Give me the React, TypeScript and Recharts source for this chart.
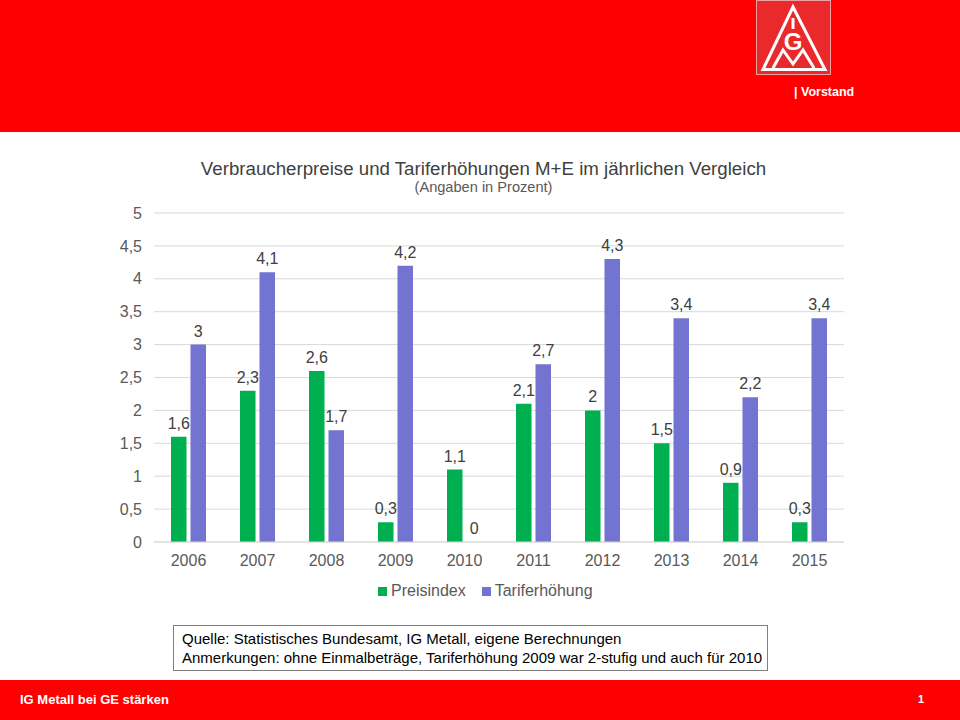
import { BarChart, Bar, XAxis, YAxis, CartesianGrid, LabelList, Legend } from "recharts"

const years = ["2006", "2007", "2008", "2009", "2010", "2011", "2012", "2013", "2014", "2015"]
const preisindex = [1.6, 2.3, 2.6, 0.3, 1.1, 2.1, 2, 1.5, 0.9, 0.3]
const tariferhoehung = [3, 4.1, 1.7, 4.2, 0, 2.7, 4.3, 3.4, 2.2, 3.4]
const yTicks = [0, 0.5, 1, 1.5, 2, 2.5, 3, 3.5, 4, 4.5, 5]

const data = years.map((year, i) => ({
  year,
  Preisindex: preisindex[i],
  Tariferhöhung: tariferhoehung[i],
}))

const FONT = '"Liberation Sans", Arial, sans-serif'
const RED = "#FF0000"

const comma = (v: any) => String(v).replace(".", ",")

function BarLabel(props: any) {
  const { x, y, width, value } = props
  return (
    <text x={x + width / 2} y={y - 8} textAnchor="middle" fill="#404040" fontSize={16}>
      {comma(value)}
    </text>
  )
}

function Logo() {
  return (
    <svg width={76} height={76} style={{ position: "absolute", left: 756, top: 0 }}>
      <rect x={0.5} y={0.5} width={74} height={74} fill="#E9292B" stroke="#F0A0A0" />
      <polygon points="37,7 69,69.5 7,69.5" fill="none" stroke="#fff" strokeWidth={3} />
      <rect x={35.5} y={18} width={3} height={11} fill="#fff" />
      <text x={37} y={50} textAnchor="middle" fontFamily={FONT} fontWeight="bold" fontSize={24} fill="#fff">G</text>
      <polyline points="17,68 27,50 37,64 47,50 58,68" fill="none" stroke="#fff" strokeWidth={3} />
    </svg>
  )
}

export default function App() {
  return (
    <div style={{ position: "absolute", left: 0, top: 0, width: 960, height: 720, background: "#fff", fontFamily: FONT, overflow: "hidden" }}>
      <div style={{ position: "absolute", left: 0, top: 0, width: 960, height: 132, background: RED }} />
      <Logo />
      <div style={{ position: "absolute", left: 794, top: 85, color: "#fff", fontSize: 12.5, fontWeight: "bold", lineHeight: "15px" }}>| Vorstand</div>

      <div style={{ position: "absolute", left: 0, top: 158, width: 967, textAlign: "center", fontSize: 18.7, color: "#404040", lineHeight: "22px" }}>
        Verbraucherpreise und Tariferhöhungen M+E im jährlichen Vergleich
      </div>
      <div style={{ position: "absolute", left: 0, top: 179, width: 967, textAlign: "center", fontSize: 14.6, color: "#595959", lineHeight: "16px" }}>
        (Angaben in Prozent)
      </div>

      <div style={{ position: "absolute", left: 0, top: 0 }}>
        <BarChart
          width={960}
          height={720}
          data={data}
          margin={{ top: 193, right: 116, bottom: 148, left: 114 }}
          barSize={15.5}
          barGap={4}
        >
          <CartesianGrid vertical={false} stroke="#D9D9D9" />
          <XAxis
            dataKey="year"
            height={30}
            axisLine={{ stroke: "#D9D9D9" }}
            tickLine={false}
            tick={{ fill: "#595959", fontSize: 16 }}
            tickMargin={7}
          />
          <YAxis
            width={40}
            domain={[0, 5]}
            ticks={yTicks}
            axisLine={false}
            tickLine={false}
            tick={{ fill: "#595959", fontSize: 16 }}
            tickFormatter={comma}
            tickMargin={6}
          />
          <Legend
            layout="horizontal"
            verticalAlign="top"
            align="left"
            iconType="square"
            iconSize={9}
            wrapperStyle={{ position: "absolute", left: 378, top: 581, width: 260, fontSize: 16, lineHeight: "20px" }}
            formatter={(value: any) => <span style={{ color: "#595959", marginRight: 6 }}>{value}</span>}
          />
          <Bar dataKey="Preisindex" fill="#00B050" isAnimationActive={false}>
            <LabelList dataKey="Preisindex" content={BarLabel} />
          </Bar>
          {/* tiny minPointSize so the 2010 zero still gets its label */}
          <Bar dataKey="Tariferhöhung" fill="#7373D2" minPointSize={0.01} isAnimationActive={false}>
            <LabelList dataKey="Tariferhöhung" content={BarLabel} />
          </Bar>
        </BarChart>
      </div>

      <div style={{ position: "absolute", left: 173, top: 625, width: 593, height: 44, border: "1px solid #808080", boxSizing: "content-box", fontSize: 15, color: "#000", lineHeight: "19px" }}>
        <div style={{ margin: "3px 0 0 8px", whiteSpace: "nowrap" }}>
          Quelle: Statistisches Bundesamt, IG Metall, eigene Berechnungen<br />
          Anmerkungen: ohne Einmalbeträge, Tariferhöhung 2009 war 2-stufig und auch für 2010
        </div>
      </div>

      <div style={{ position: "absolute", left: 0, top: 680, width: 960, height: 40, background: RED }} />
      <div style={{ position: "absolute", left: 20, top: 692, color: "#fff", fontSize: 13, fontWeight: "bold", lineHeight: "16px" }}>IG Metall bei GE stärken</div>
      <div style={{ position: "absolute", left: 918, top: 691, color: "#fff", fontSize: 11, fontWeight: "bold", lineHeight: "16px" }}>1</div>
    </div>
  )
}
